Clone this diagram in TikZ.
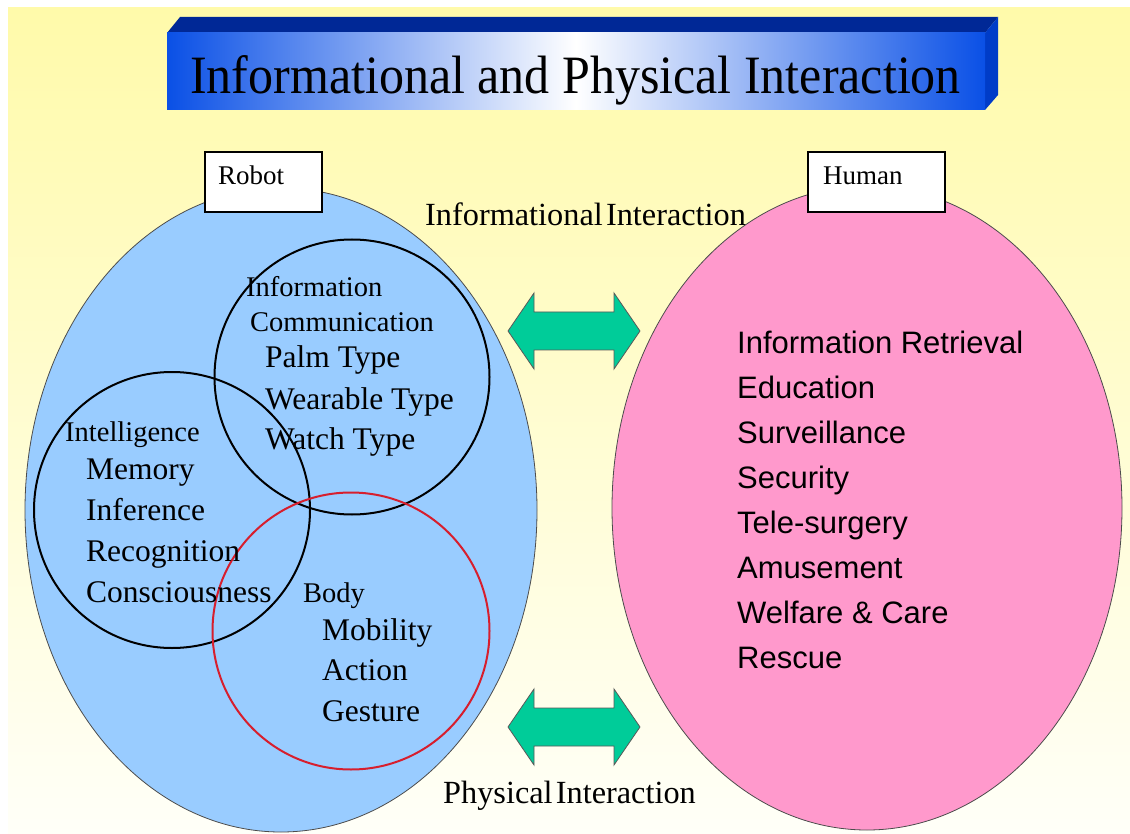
\documentclass[tikz,border=0pt]{standalone}
\usepackage{fontspec}
\setmainfont{Liberation Serif}
\newfontfamily\arialfont{Liberation Sans}
\usetikzlibrary{shapes.geometric}
\definecolor{bgtop}{RGB}{255,250,170}
\definecolor{bgbot}{RGB}{255,255,248}
\definecolor{robotblue}{RGB}{153,204,255}
\definecolor{humanpink}{RGB}{255,153,204}
\definecolor{arrowgreen}{RGB}{0,204,153}
\definecolor{bannerblue}{RGB}{10,80,230}
\definecolor{bannertop}{RGB}{0,40,150}
\definecolor{bannerside}{RGB}{0,60,200}
\definecolor{bodyred}{RGB}{215,30,45}
\tikzset{
  blob/.style={ellipse, draw=black!70, line width=0.8pt, inner sep=0pt},
  setcircle/.style={circle, draw=black, line width=2pt, inner sep=0pt},
  tag/.style={draw=black, line width=1.5pt, fill=white, minimum width=#1, minimum height=60pt, inner sep=0pt},
  serifitem/.style={anchor=base west, inner sep=0pt, font=\fontsize{31.5}{36}\selectfont},
  serifhead/.style={anchor=base west, inner sep=0pt, font=\fontsize{28.5}{33}\selectfont},
  humanitem/.style={anchor=base west, inner sep=0pt, font=\arialfont\fontsize{31}{36}\selectfont},
  linklabel/.style={anchor=base west, inner sep=0pt, font=\fontsize{32.3}{36}\selectfont},
  dblarrow/.style={fill=arrowgreen, draw=black!65, line width=0.8pt, line join=miter}
}
\begin{document}
\begin{tikzpicture}[x=1pt,y=-1pt]
\useasboundingbox (0,0) rectangle (1130,834);
% background
\fill[white] (0,0) rectangle (1130,834);
\shade[top color=bgtop, bottom color=bgbot] (8,8) rectangle (1130,834);
% banner
\fill[bannertop] (167,33) -- (180,17) -- (998,17) -- (985,33) -- cycle;
\fill[bannerside] (985,33) -- (998,17) -- (998,95) -- (985,110) -- cycle;
\shade[left color=bannerblue, right color=bannerblue, middle color=white] (167,33) rectangle (985,110);
\node[anchor=base west, inner sep=0pt, font=\fontsize{50}{60}\selectfont, yscale=1.08] (title) at (190,94) {Informational and Physical Interaction};
% ellipses
\node[blob, fill=robotblue, minimum width=512pt, minimum height=644pt] (robot) at (281,510) {};
\node[blob, fill=humanpink, minimum width=510pt, minimum height=644pt] (human) at (867,508) {};
% circles
\node[setcircle, minimum size=275pt] (infocirc) at (352,377) {};
\node[setcircle, minimum size=276pt] (intcirc) at (172,510) {};
\node[setcircle, draw=bodyred, minimum size=277pt] (bodycirc) at (351,631) {};
% tags
\node[tag=117pt] (robottag) at (263.5,182) {};
\node[anchor=base west, inner sep=0pt, font=\fontsize{27}{32}\selectfont] (robottext) at (218,185) {Robot};
\node[tag=137pt] (humantag) at (876.5,182) {};
\node[anchor=base west, inner sep=0pt, font=\fontsize{27}{32}\selectfont] (humantext) at (823,185) {Human};
% interaction labels
\node[linklabel] (infolabel) at (425,226) {Informational\hspace{0.1em}Interaction};
\node[linklabel] (physlabel) at (443,803) {Physical\hspace{0.1em}Interaction};
% arrows
\draw[dblarrow] (508,331) -- (534,293) -- (534,312) -- (614,312) -- (614,293) -- (640,331) -- (614,369) -- (614,350) -- (534,350) -- (534,369) -- cycle;
\draw[dblarrow] (508,727) -- (534,689) -- (534,708) -- (614,708) -- (614,689) -- (640,727) -- (614,765) -- (614,746) -- (534,746) -- (534,765) -- cycle;
% info circle texts
\node[serifhead] (t1) at (246,297) {Information};
\node[serifhead] (t2) at (250,331) {Communication};
\node[serifitem] (t3) at (265,367) {Palm Type};
\node[serifitem] (t4) at (265,409) {Wearable Type};
\node[serifitem] (t5) at (265,449) {Watch Type};
% intelligence texts
\node[serifhead] (i1) at (65,441) {Intelligence};
\node[serifitem] (i2) at (86,479) {Memory};
\node[serifitem] (i3) at (86,520) {Inference};
\node[serifitem] (i4) at (86,561) {Recognition};
\node[serifitem] (i5) at (86,602) {Consciousness};
% body texts
\node[serifhead] (b1) at (303,602) {Body};
\node[serifitem] (b2) at (322,640) {Mobility};
\node[serifitem] (b3) at (322,680) {Action};
\node[serifitem] (b4) at (322,721) {Gesture};
% human list
\node[humanitem] (h1) at (737,353) {Information Retrieval};
\node[humanitem] (h2) at (737,398) {Education};
\node[humanitem] (h3) at (737,443) {Surveillance};
\node[humanitem] (h4) at (737,488) {Security};
\node[humanitem] (h5) at (737,533) {Tele-surgery};
\node[humanitem] (h6) at (737,578) {Amusement};
\node[humanitem] (h7) at (737,623) {Welfare \& Care};
\node[humanitem] (h8) at (737,668) {Rescue};
\end{tikzpicture}
\end{document}
